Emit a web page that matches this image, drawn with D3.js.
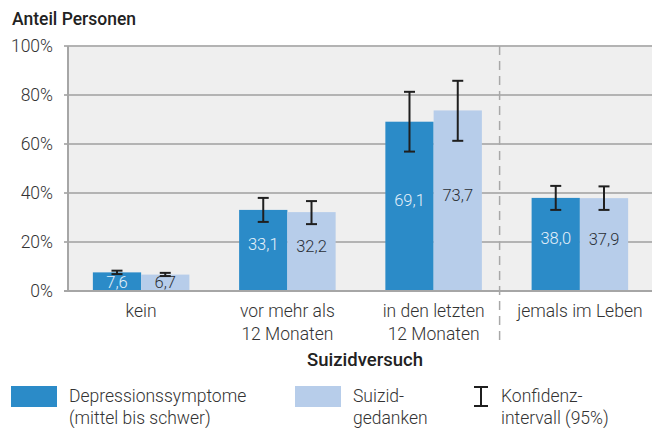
<!DOCTYPE html>
<html>
<head>
<meta charset="utf-8">
<script src="https://cdn.jsdelivr.net/npm/d3@7"></script>
<style>
  body { margin: 0; background: #fff; }
  text { font-family: Roboto, "Noto Sans", sans-serif; }
</style>
</head>
<body>
<div id="chart"></div>
<script>
// Data
const categories = [["kein"], ["vor mehr als", "12 Monaten"], ["in den letzten", "12 Monaten"], ["jemals im Leben"]];
const depression = [7.6, 33.1, 69.1, 38.0];
const depressionLow = [6.9, 28.2, 56.9, 33.1];
const depressionHigh = [8.3, 38.0, 81.3, 42.9];
const gedanken = [6.7, 32.2, 73.7, 37.9];
const gedankenLow = [6.1, 27.3, 61.3, 33.1];
const gedankenHigh = [7.4, 36.7, 85.8, 42.7];
const yTicks = [0, 20, 40, 60, 80, 100];
const seriesNames = [["Depressionssymptome", "(mittel bis schwer)"], ["Suizid-", "gedanken"]];

const colors = ["#2b8bc8", "#b7cdea"];
const labelColors = ["#e6f1fa", "#2a2f36"];

const W = 652, H = 428;
const plot = { left: 68, right: 653, top: 46, bottom: 291 };

const svg = d3.select("#chart").append("svg")
    .attr("width", W)
    .attr("height", H);

const keys = categories.map((c, i) => i);
const x0 = d3.scaleBand()
    .domain(keys)
    .range([plot.left, plot.right])
    .paddingInner(0.34)
    .paddingOuter(0.17);
const x1 = d3.scaleBand()
    .domain([0, 1])
    .range([0, x0.bandwidth()]);
const y = d3.scaleLinear()
    .domain([0, 100])
    .range([plot.bottom, plot.top]);

// plot background
svg.append("rect")
    .attr("x", plot.left).attr("y", plot.top)
    .attr("width", W - plot.left).attr("height", plot.bottom - plot.top)
    .attr("fill", "#efefef");

// gridlines
svg.append("g")
    .selectAll("line")
    .data(yTicks)
    .enter().append("line")
    .attr("x1", plot.left - 4).attr("x2", W)
    .attr("y1", d => y(d)).attr("y2", d => y(d))
    .attr("stroke", "#b3b3b3")
    .attr("stroke-width", 2);

// y axis line
svg.append("line")
    .attr("x1", plot.left).attr("x2", plot.left)
    .attr("y1", plot.top).attr("y2", plot.bottom)
    .attr("stroke", "#a6a6a6")
    .attr("stroke-width", 2);

// y tick labels
svg.append("g")
    .selectAll("text")
    .data(yTicks)
    .enter().append("text")
    .attr("x", plot.left - 15)
    .attr("y", d => y(d) + 6)
    .attr("text-anchor", "end")
    .style("font-size", "17.5px")
    .style("font-weight", 300)
    .attr("fill", "#333")
    .text(d => d + "%");

// dashed divider
const divX = x0(3) - 32;
svg.append("line")
    .attr("x1", divX).attr("x2", divX)
    .attr("y1", plot.top).attr("y2", 342)
    .attr("stroke", "#a8a8a8")
    .attr("stroke-width", 1.5)
    .attr("stroke-dasharray", "9,6");

// bars
const series = [
    { vals: depression, lo: depressionLow, hi: depressionHigh },
    { vals: gedanken, lo: gedankenLow, hi: gedankenHigh }
];

series.forEach((s, si) => {
    const g = svg.append("g");
    g.selectAll("rect")
        .data(s.vals)
        .enter().append("rect")
        .attr("x", (d, i) => x0(i) + x1(si))
        .attr("y", d => y(d))
        .attr("width", x1.bandwidth())
        .attr("height", d => y(0) - y(d))
        .attr("fill", colors[si]);

    g.selectAll("text")
        .data(s.vals)
        .enter().append("text")
        .attr("x", (d, i) => x0(i) + x1(si) + x1.bandwidth() / 2)
        .attr("y", d => d > 15 ? y(d / 2) : y(0) - 3)
        .attr("text-anchor", "middle")
        .style("font-size", "16.5px")
        .style("font-weight", 300)
        .attr("fill", labelColors[si])
        .text(d => d3.format(".1f")(d).replace(".", ","));
});

// error bars
series.forEach((s, si) => {
    const g = svg.append("g")
        .attr("stroke", "#1f1f1f")
        .attr("stroke-width", 2)
        .attr("fill", "none");
    s.vals.forEach((v, i) => {
        const cx = x0(i) + x1(si) + x1.bandwidth() / 2;
        const cap = 5.5;
        g.append("line")
            .attr("x1", cx).attr("x2", cx)
            .attr("y1", y(s.lo[i])).attr("y2", y(s.hi[i]));
        [s.lo[i], s.hi[i]].forEach(e => {
            g.append("line")
                .attr("x1", cx - cap).attr("x2", cx + cap)
                .attr("y1", y(e)).attr("y2", y(e));
        });
    });
});

// x axis line
svg.append("line")
    .attr("x1", plot.left - 4).attr("x2", W)
    .attr("y1", y(0)).attr("y2", y(0))
    .attr("stroke", "#a6a6a6")
    .attr("stroke-width", 2);

// category labels
const catG = svg.append("g");
categories.forEach((lines, i) => {
    const t = catG.append("text")
        .attr("x", x0(i) + x0.bandwidth() / 2)
        .attr("y", 317)
        .attr("text-anchor", "middle")
        .style("font-size", "17.5px")
        .style("font-weight", 300)
        .attr("fill", "#333");
    lines.forEach((l, j) => {
        t.append("tspan")
            .attr("x", x0(i) + x0.bandwidth() / 2)
            .attr("dy", j === 0 ? 0 : 23)
            .text(l);
    });
});

// axis titles
svg.append("text")
    .attr("x", 365)
    .attr("y", 366)
    .attr("text-anchor", "middle")
    .style("font-size", "18.5px")
    .style("font-weight", 500)
    .attr("fill", "#222")
    .text("Suizidversuch");

svg.append("text")
    .attr("x", 12)
    .attr("y", 25)
    .style("font-size", "17.5px")
    .style("font-weight", 500)
    .attr("fill", "#222")
    .text("Anteil Personen");

// legend
const legend = svg.append("g");
const legendX = [11, 295];
seriesNames.forEach((lines, i) => {
    legend.append("rect")
        .attr("x", legendX[i]).attr("y", 386)
        .attr("width", 46).attr("height", 21)
        .attr("fill", colors[i]);
    const t = legend.append("text")
        .attr("y", 402)
        .style("font-size", "17.5px")
        .style("font-weight", 300)
        .attr("fill", "#333");
    lines.forEach((l, j) => {
        t.append("tspan")
            .attr("x", legendX[i] + 58)
            .attr("dy", j === 0 ? 0 : 22)
            .text(l);
    });
});

const ci = legend.append("g")
    .attr("stroke", "#1f1f1f")
    .attr("stroke-width", 2);
ci.append("line").attr("x1", 481).attr("x2", 481).attr("y1", 387).attr("y2", 406);
ci.append("line").attr("x1", 474).attr("x2", 488).attr("y1", 387).attr("y2", 387);
ci.append("line").attr("x1", 474).attr("x2", 488).attr("y1", 406).attr("y2", 406);

const ciText = legend.append("text")
    .attr("y", 402)
    .style("font-size", "17.5px")
    .style("font-weight", 300)
    .attr("fill", "#333");
["Konfidenz-", "intervall (95%)"].forEach((l, j) => {
    ciText.append("tspan")
        .attr("x", 501)
        .attr("dy", j === 0 ? 0 : 22)
        .text(l);
});
</script>
</body>
</html>
